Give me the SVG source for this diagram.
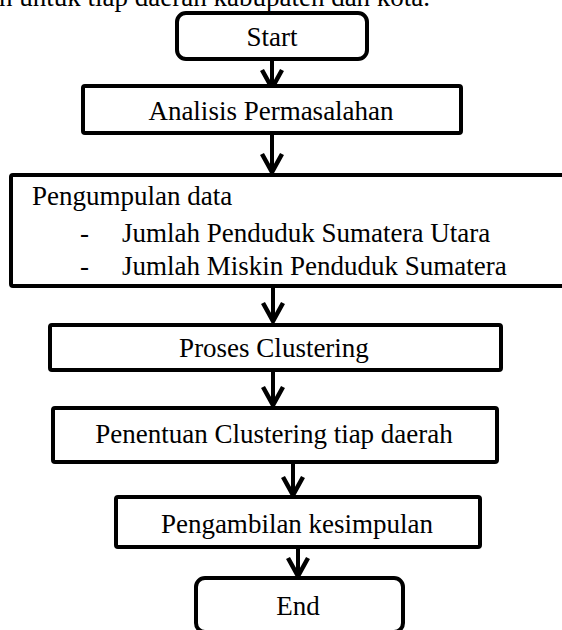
<svg xmlns="http://www.w3.org/2000/svg" width="562" height="630" viewBox="0 0 562 630">
<style>
  .box { fill: #ffffff; stroke: #000000; stroke-width: 4; }
  .t { font-family: "Liberation Serif", "Times New Roman", serif; font-size: 27px; fill: #000000; }
  .c { text-anchor: middle; }
  .ln { stroke: #000000; stroke-width: 4; fill: none; }
  .hd { stroke: #000000; stroke-width: 4.5; fill: none; stroke-linejoin: miter; stroke-miterlimit: 10; }
</style>
<rect width="562" height="630" fill="#ffffff"/>
<text class="t" x="-1" y="6">n untuk tiap daerah kabupaten dan kota.</text>

<g id="connectors">
  <line class="ln" x1="272" y1="59" x2="272" y2="87"/>
  <polyline class="hd" points="262,70 272,88 282,70"/>
  <line class="ln" x1="272" y1="133" x2="272" y2="171"/>
  <polyline class="hd" points="262,154 272,172 282,154"/>
  <line class="ln" x1="273" y1="286" x2="273" y2="321"/>
  <polyline class="hd" points="263,303 273,321 283,303"/>
  <line class="ln" x1="273" y1="370" x2="273" y2="404"/>
  <polyline class="hd" points="263,387 273,405 283,387"/>
  <line class="ln" x1="293" y1="462" x2="293" y2="494"/>
  <polyline class="hd" points="283,477 293,495 303,477"/>
  <line class="ln" x1="298" y1="547" x2="298" y2="576"/>
  <polyline class="hd" points="288,558 298,576 308,558"/>
</g>

<g id="start">
  <rect class="box" x="177" y="13" width="190" height="46" rx="9"/>
  <text class="t c" x="272" y="46">Start</text>
</g>
<g id="analisis">
  <rect class="box" x="83" y="86" width="378" height="47" rx="2"/>
  <text class="t c" x="271" y="120">Analisis Permasalahan</text>
</g>
<g id="pengumpulan">
  <rect class="box" x="11" y="175" width="560" height="111" rx="2"/>
  <text class="t" x="32" y="205">Pengumpulan data</text>
  <text class="t" x="80" y="242">-</text>
  <text class="t" x="122" y="242">Jumlah Penduduk Sumatera Utara</text>
  <text class="t" x="80" y="275">-</text>
  <text class="t" x="122" y="275">Jumlah Miskin Penduduk Sumatera</text>
</g>
<g id="proses">
  <rect class="box" x="50" y="325" width="451" height="45" rx="2"/>
  <text class="t c" x="274" y="357">Proses Clustering</text>
</g>
<g id="penentuan">
  <rect class="box" x="53" y="408" width="444" height="54" rx="2"/>
  <text class="t c" x="274" y="443">Penentuan Clustering tiap daerah</text>
</g>
<g id="pengambilan">
  <rect class="box" x="116" y="497" width="364" height="50" rx="2"/>
  <text class="t c" x="297" y="533">Pengambilan kesimpulan</text>
</g>
<g id="end">
  <rect class="box" x="196" y="578" width="207" height="54" rx="9"/>
  <text class="t c" x="298" y="615">End</text>
</g>
</svg>
